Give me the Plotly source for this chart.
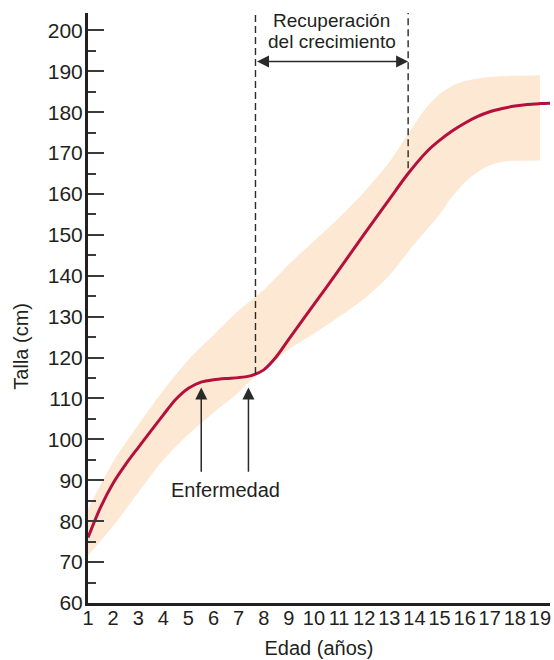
import plotly.graph_objects as go

# Curva de talla de un niño con enfermedad y recuperación del crecimiento
edad_nino = [1.0, 1.5, 2.0, 2.5, 3.0, 3.5, 4.0, 4.5, 5.0, 5.5, 6.0, 6.5, 7.0, 7.5,
             8.0, 8.5, 9.0, 10.0, 11.0, 12.0, 13.0, 13.75, 14.5, 15.0, 15.5, 16.0,
             16.5, 17.0, 17.5, 18.0, 18.5, 19.0, 19.4]
talla_nino = [76.0, 83.4, 89.3, 93.9, 98.0, 102.0, 106.0, 109.8, 112.5, 114.0, 114.6,
              114.9, 115.1, 115.6, 117.0, 120.2, 124.5, 133.0, 141.5, 150.2, 158.7,
              165.0, 170.4, 173.1, 175.4, 177.3, 178.9, 180.1, 180.9, 181.5, 181.9,
              182.1, 182.2]

# Rango de referencia (límites superior e inferior de la banda)
edad_sup = [1, 2, 3, 4, 5, 6, 7, 8, 9, 10, 11, 12, 13, 14, 14.5, 15, 15.5, 16,
            16.5, 17, 17.5, 18, 19]
talla_sup = [83.0, 94.5, 103.5, 112.0, 119.5, 125.5, 131.5, 136.5, 142.8, 148.5,
             154.2, 160.5, 167.8, 177.0, 181.3, 184.4, 186.4, 187.6, 188.2, 188.6,
             188.8, 188.9, 189.0]

edad_inf = [1, 2, 3, 4, 5, 6, 7, 7.5, 8.4, 9.0, 10.0, 11.0, 12.0, 13.0, 14.0, 15.0,
            15.5, 16.0, 16.5, 17, 17.5, 18, 19]
talla_inf = [71.6, 78.8, 87.0, 95.0, 101.2, 106.5, 111.5, 114.5, 119.0, 122.0, 125.9,
             130.0, 134.4, 140.1, 147.8, 155.0, 159.3, 162.8, 165.3, 167.0, 167.9,
             168.1, 168.2]

edades_eje = list(range(1, 20))
tallas_eje = list(range(60, 201, 10))

# Marcas de la anotación
inicio_recuperacion = 7.67
fin_recuperacion = 13.75
talla_inicio_recuperacion = 116.0
talla_fin_recuperacion = 166.3
flechas_enfermedad = [5.51, 7.39]

Y_MIN, Y_MAX = 60, 204.25

FONT = "Liberation Sans, Arial, Helvetica, sans-serif"
TXT = "#231f20"
ROJO = "#b5103c"
BANDA = "#fce8d3"

fig = go.Figure()

fig.add_trace(go.Scatter(x=edad_inf, y=talla_inf, mode="lines",
                         line=dict(width=0, shape="spline", smoothing=0.8),
                         hoverinfo="skip", showlegend=False))
fig.add_trace(go.Scatter(x=edad_sup, y=talla_sup, mode="lines", fill="tonexty",
                         fillcolor=BANDA,
                         line=dict(width=0, shape="spline", smoothing=0.8),
                         hoverinfo="skip", showlegend=False))
fig.add_trace(go.Scatter(x=edad_nino, y=talla_nino, mode="lines",
                         line=dict(color=ROJO, width=3, shape="spline", smoothing=0.8),
                         showlegend=False))

# Líneas verticales discontinuas que delimitan la recuperación
for xv, yv in [(inicio_recuperacion, talla_inicio_recuperacion),
               (fin_recuperacion, talla_fin_recuperacion)]:
    fig.add_shape(type="line", xref="x", yref="paper", x0=xv, x1=xv,
                  y0=(yv - Y_MIN) / (Y_MAX - Y_MIN), y1=1,
                  line=dict(color="#2a2a2a", width=1.4, dash="7px,4px"))

# Flecha doble
fig.add_annotation(x=fin_recuperacion, y=192.4, ax=inicio_recuperacion, ay=192.4,
                   xref="x", yref="y", axref="x", ayref="y", text="",
                   showarrow=True, arrowhead=2, startarrowhead=2, arrowside="end+start",
                   arrowsize=1.6, startarrowsize=1.6, arrowwidth=1.5, arrowcolor="#2a2a2a")
centro = (inicio_recuperacion + fin_recuperacion) / 2
fig.add_annotation(x=centro, y=202.5, text="Recuperación", showarrow=False,
                   yanchor="middle", font=dict(family=FONT, size=19, color=TXT))
fig.add_annotation(x=centro, y=197.4, text="del crecimiento", showarrow=False,
                   yanchor="middle", font=dict(family=FONT, size=19, color=TXT))

# Flechas de la enfermedad
for xa in flechas_enfermedad:
    fig.add_annotation(x=xa, y=112.7, ax=xa, ay=91.7, xref="x", yref="y",
                       axref="x", ayref="y", text="", showarrow=True,
                       arrowhead=2, arrowsize=1.6, arrowwidth=1.5, arrowcolor="#2a2a2a")
fig.add_annotation(x=6.49, y=87.6, text="Enfermedad", showarrow=False,
                   font=dict(family=FONT, size=20, color=TXT))

# Título del eje vertical
fig.add_annotation(xref="paper", yref="y", x=-0.147, y=122.7, text="Talla (cm)",
                   textangle=-90, showarrow=False, xanchor="center", yanchor="middle",
                   font=dict(family=FONT, size=20, color=TXT))

fig.update_layout(
    width=554, height=660,
    margin=dict(l=88, r=4, t=13, b=57),
    paper_bgcolor="white", plot_bgcolor="white",
    font=dict(family=FONT, size=20, color=TXT),
    xaxis=dict(range=[1, 19.4], showline=True, linewidth=3, linecolor=TXT,
               showgrid=False, zeroline=False, ticks="", tickvals=edades_eje,
               ticktext=[str(e) for e in edades_eje], ticklabelstandoff=-5,
               tickfont=dict(family=FONT, size=20, color=TXT),
               title=dict(text="Edad (años)", standoff=13,
                          font=dict(family=FONT, size=20, color=TXT))),
    yaxis=dict(range=[Y_MIN, Y_MAX], showline=True, linewidth=3, linecolor=TXT,
               showgrid=False, zeroline=False, ticks="inside", ticklen=16,
               tickwidth=1.5, tickcolor="#3a3a3a", tickvals=tallas_eje,
               ticklabelstandoff=-2,
               tickfont=dict(family=FONT, size=21, color=TXT),
               minor=dict(ticks="inside", ticklen=8, tickwidth=1.5,
                          tickcolor="#3a3a3a", dtick=5, tick0=60)),
)

fig.write_html("out.html")
